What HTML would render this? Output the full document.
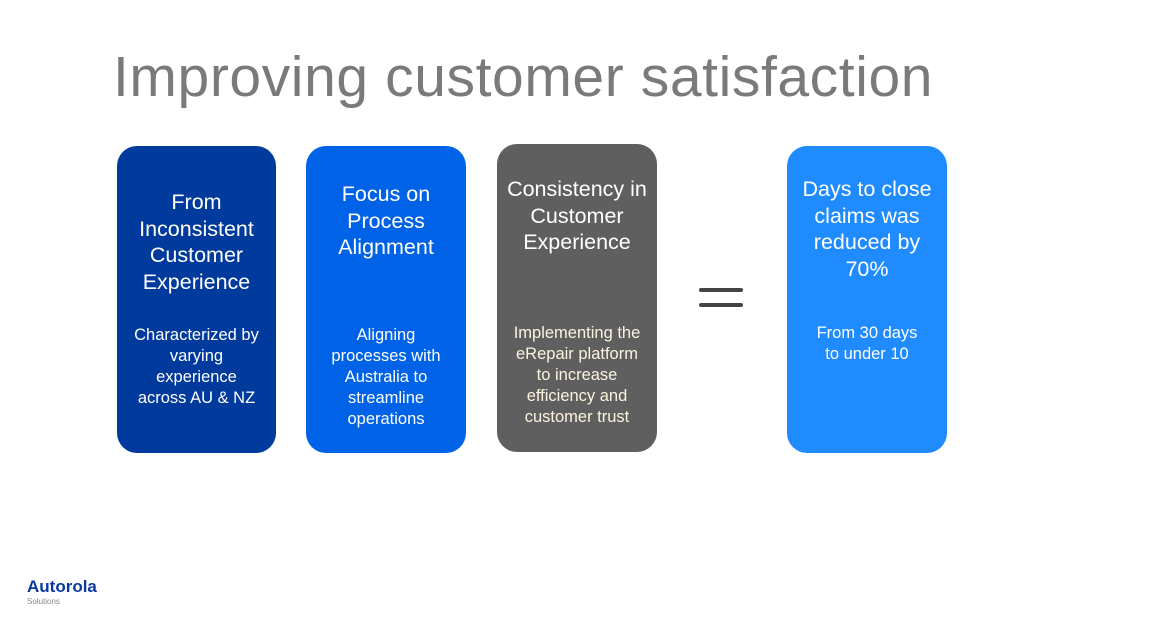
<!DOCTYPE html>
<html><head><meta charset="utf-8"><style>
body{margin:0;width:1160px;height:621px;background:#fff;position:relative;overflow:hidden;font-family:"Liberation Sans",sans-serif}
.t{position:absolute;left:113px;top:44px;font-size:57px;color:#7a7a7a;font-weight:300;letter-spacing:0.6px}
.b{position:absolute;width:160px;height:307px;border-radius:20px;color:#fff;text-align:center}
.h{position:absolute;left:0;right:0;font-size:21.5px;line-height:26.5px}
.p{position:absolute;left:0;right:0;font-size:16.5px;line-height:21px}
.eq{position:absolute;left:699px;width:44px;height:4px;background:#444;border-radius:2px}
</style></head><body>
<div class="t">Improving customer satisfaction</div>
<div class="b" style="left:117px;top:146px;width:159px;background:#003a9c">
<div class="h" style="top:43px">From<br>Inconsistent<br>Customer<br>Experience</div>
<div class="p" style="top:179px">Characterized by<br>varying<br>experience<br>across AU &amp; NZ</div></div>
<div class="b" style="left:306px;top:146px;background:#0062e6">
<div class="h" style="top:35px">Focus on<br>Process<br>Alignment</div>
<div class="p" style="top:179px">Aligning<br>processes with<br>Australia to<br>streamline<br>operations</div></div>
<div class="b" style="left:497px;top:144px;height:308px;background:#5f5f5f">
<div class="h" style="top:32px">Consistency in<br>Customer<br>Experience</div>
<div class="p" style="top:179px;color:#fbf3e0">Implementing the<br>eRepair platform<br>to increase<br>efficiency and<br>customer trust</div></div>
<div class="eq" style="top:288px"></div><div class="eq" style="top:303px"></div>
<div class="b" style="left:787px;top:146px;background:#1f8bff">
<div class="h" style="top:30px">Days to close<br>claims was<br>reduced by<br>70%</div>
<div class="p" style="top:177px">From 30 days<br>to under 10</div></div>
<div style="position:absolute;left:27px;top:577px;font-size:17px;font-weight:bold;color:#0a3aa0">Autorola</div>
<div style="position:absolute;left:27px;top:597px;font-size:8px;color:#888">Solutions</div>
</body></html>
